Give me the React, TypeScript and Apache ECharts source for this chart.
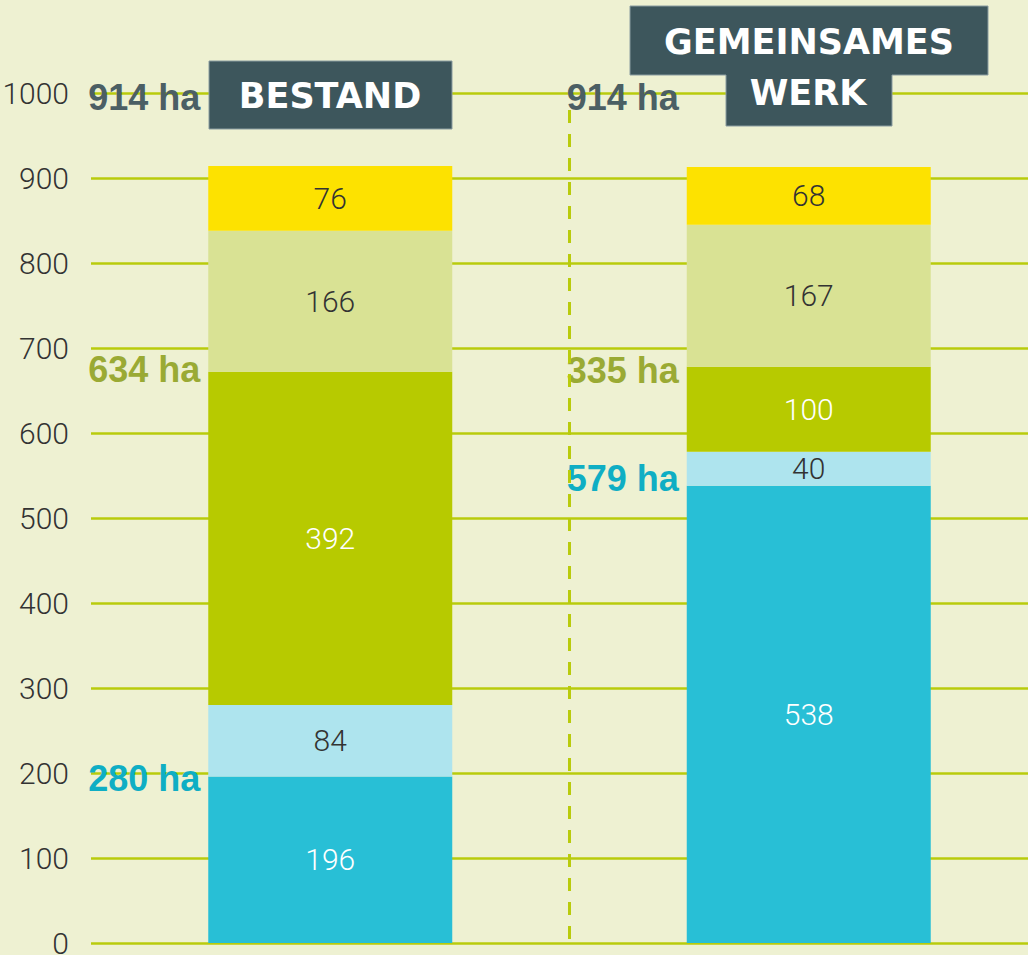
import React, { useEffect, useRef } from "react";
import * as echarts from "echarts";

const categories = ["Bestand", "Gemeinsames Werk"];
const tealValues = [196, 538];
const lightBlueValues = [84, 40];
const oliveValues = [392, 100];
const paleValues = [166, 167];
const yellowValues = [76, 68];
const yTicks = [0, 100, 200, 300, 400, 500, 600, 700, 800, 900, 1000];

const annotCategory = [0, 0, 0, 1, 1, 1];
const annotValue = [995, 675, 194, 995, 673, 547];
const annotText = ["914 ha", "634 ha", "280 ha", "914 ha", "335 ha", "579 ha"];
const annotKind = ["total", "green", "blue", "total", "green", "blue"];

const COLORS = {
  bg: "#eef1d2",
  grid: "#b9cb0c",
  teal: "#28bfd6",
  lightBlue: "#aee4ee",
  olive: "#b7ca00",
  pale: "#d9e294",
  yellow: "#fde200",
  box: "#3d565c",
  total: "#4b5f64",
  green: "#9aaa34",
  blue: "#0faec4",
};

const THIN = "Roboto, 'DejaVu Sans Condensed', sans-serif";

export default function App() {
  const ref = useRef<HTMLDivElement>(null);
  useEffect(() => {
    if (!ref.current) return;
    const chart = echarts.init(ref.current, undefined, { renderer: "svg" });
    const mkBar = (name: string, data: number[], color: string, labelColor: string) => ({
      name,
      type: "bar",
      stack: "total",
      data,
      barWidth: 244,
      itemStyle: { color },
      label: {
        show: true,
        position: "inside",
        color: labelColor,
        fontFamily: THIN,
        fontWeight: 300,
        fontSize: 30,
      },
      z: 3,
    });
    const kindColor: Record<string, string> = {
      total: COLORS.total,
      green: COLORS.green,
      blue: COLORS.blue,
    };
    const option: any = {
      animation: false,
      backgroundColor: COLORS.bg,
      grid: {
        left: 91,
        top: 93,
        width: 957,
        height: 850,
        containLabel: false,
        outerBoundsMode: "none",
      },
      xAxis: {
        type: "category",
        data: categories,
        axisLine: { show: false },
        axisTick: { show: false },
        axisLabel: { show: false },
        splitLine: { show: false },
      },
      yAxis: {
        type: "value",
        min: yTicks[0],
        max: yTicks[yTicks.length - 1],
        interval: 100,
        axisLine: { show: false },
        axisTick: { show: false },
        axisLabel: {
          color: "#333",
          fontFamily: THIN,
          fontWeight: 300,
          fontSize: 30,
          margin: 22,
          formatter: (v: number) => String(v),
        },
        splitLine: { lineStyle: { color: COLORS.grid, width: 2.5 } },
      },
      series: [
        mkBar("teal", tealValues, COLORS.teal, "#ffffff"),
        mkBar("lightBlue", lightBlueValues, COLORS.lightBlue, "#333"),
        mkBar("olive", oliveValues, COLORS.olive, "#ffffff"),
        mkBar("pale", paleValues, COLORS.pale, "#333"),
        mkBar("yellow", yellowValues, COLORS.yellow, "#333"),
        {
          type: "scatter",
          symbolSize: 0,
          z: 5,
          itemStyle: { opacity: 1 },
          data: annotCategory.map((c, i) => ({
            value: [c, annotValue[i]],
            label: { color: kindColor[annotKind[i]] },
            name: annotText[i],
          })),
          label: {
            show: true,
            position: "left",
            distance: 130,
            formatter: (p: any) => p.name,
            fontFamily: "'Liberation Sans', Arial, sans-serif",
            fontWeight: "bold",
            fontSize: 36,
            opacity: 1,
            textBorderWidth: 0,
            textBorderColor: "transparent",
          },
        },
      ],
    };
    chart.setOption(option);

    const x0 = chart.convertToPixel({ xAxisIndex: 0 }, 0) as number;
    const x1 = chart.convertToPixel({ xAxisIndex: 0 }, 1) as number;
    const midX = (x0 + x1) / 2;
    const yTop = chart.convertToPixel({ yAxisIndex: 0 }, 980) as number;
    const yBottom = chart.convertToPixel({ yAxisIndex: 0 }, 0) as number;

    const titleFont = {
      fill: "#ffffff",
      fontFamily: "'DejaVu Sans', sans-serif",
      fontWeight: "bold",
      fontSize: 35,
      align: "center",
      verticalAlign: "middle",
      textAlign: "center",
      textVerticalAlign: "middle",
    };

    chart.setOption({
      graphic: [
        {
          type: "line",
          z: 10,
          shape: { x1: midX, y1: yTop, x2: midX, y2: yBottom },
          style: { stroke: COLORS.grid, lineWidth: 3, lineDash: [13, 11] },
        },
        {
          type: "rect",
          z: 20,
          shape: { x: 209, y: 61, width: 243, height: 68 },
          style: { fill: COLORS.box, stroke: "#8a9ca0", lineWidth: 1 },
        },
        {
          type: "text",
          z: 21,
          x: 330,
          y: 96,
          style: { ...titleFont, text: "BESTAND" },
        },
        {
          type: "polygon",
          z: 20,
          shape: {
            points: [
              [630, 6],
              [988, 6],
              [988, 75],
              [892, 75],
              [892, 126],
              [726, 126],
              [726, 75],
              [630, 75],
            ],
          },
          style: { fill: COLORS.box, stroke: "#8a9ca0", lineWidth: 1 },
        },
        {
          type: "text",
          z: 21,
          x: 809,
          y: 42,
          style: { ...titleFont, text: "GEMEINSAMES" },
        },
        {
          type: "text",
          z: 21,
          x: 808,
          y: 93,
          style: { ...titleFont, text: "WERK" },
        },
      ],
    });

    return () => chart.dispose();
  }, []);
  return (
    <div
      ref={ref}
      style={{ position: "fixed", left: 0, top: 0, width: 1028, height: 955, background: COLORS.bg }}
    />
  );
}
